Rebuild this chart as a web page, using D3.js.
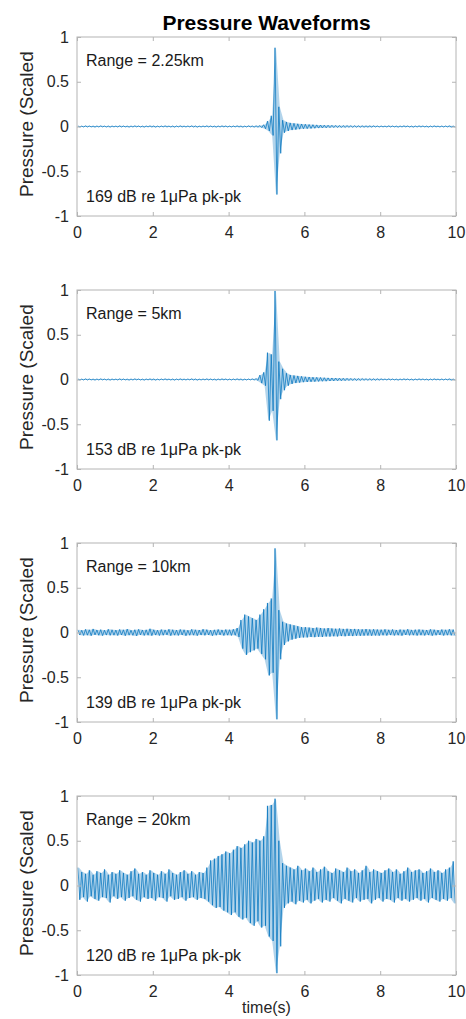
<!DOCTYPE html>
<html lang="en">
<head>
  <meta charset="UTF-8">
  <title>Pressure Waveforms</title>
  <style>
    body { margin: 0; background: #fff; }
    svg { display: block; font-family: "Liberation Sans", Arial, Helvetica, sans-serif; }
    .tick text { fill: #262626; font-size: 16px; }
    .tick line { stroke: #b4b4b4; }
  </style>
  <script src="https://d3js.org/d3.v7.min.js"></script>
</head>
<body>
<script>
  // sampling step of the stored envelope (s); each step holds a high and a low peak
  const dt = 0.1;

  const xTicks = [0, 2, 4, 6, 8, 10];
  const yTicks = [-1, -0.5, 0, 0.5, 1];
  const rangeLabels = ["Range = 2.25km", "Range = 5km", "Range = 10km", "Range = 20km"];
  const levelLabels = ["169 dB re 1\u03bcPa pk-pk", "153 dB re 1\u03bcPa pk-pk",
                       "139 dB re 1\u03bcPa pk-pk", "120 dB re 1\u03bcPa pk-pk"];

  // Range = 2.25km
  const hi1 = [
    .006,.005,.007,.006,.005,.006,.007,.005,.006,.006,
    .005,.007,.006,.005,.006,.007,.006,.005,.006,.007,
    .006,.005,.006,.007,.005,.006,.006,.007,.005,.006,
    .007,.006,.005,.006,.007,.006,.005,.006,.007,.006,
    .005,.006,.007,.006,.005,.007,.006,.008,.01,.02,
    .06,.12,.88,.22,.07,.05,.04,.035,.03,.028,
    .025,.022,.02,.018,.016,.015,.014,.013,.012,.011,
    .01,.01,.009,.009,.008,.008,.007,.007,.007,.006,
    .006,.005,.007,.006,.005,.006,.007,.006,.005,.006,
    .007,.006,.005,.006,.007,.005,.006,.006,.007,.005];
  const lo1 = [
    -.005,-.006,-.006,-.005,-.007,-.006,-.005,-.006,-.007,-.005,
    -.006,-.006,-.005,-.007,-.006,-.005,-.006,-.007,-.005,-.006,
    -.007,-.006,-.005,-.006,-.006,-.007,-.005,-.006,-.006,-.005,
    -.006,-.007,-.006,-.005,-.006,-.005,-.007,-.006,-.005,-.006,
    -.006,-.005,-.006,-.007,-.006,-.005,-.007,-.008,-.012,-.025,
    -.05,-.1,-.76,-.3,-.07,-.05,-.04,-.035,-.03,-.026,
    -.024,-.022,-.02,-.018,-.016,-.015,-.013,-.012,-.011,-.011,
    -.01,-.009,-.009,-.008,-.008,-.008,-.007,-.007,-.006,-.006,
    -.005,-.006,-.006,-.005,-.007,-.006,-.005,-.006,-.007,-.006,
    -.006,-.005,-.007,-.006,-.005,-.006,-.006,-.005,-.007,-.006];

  // Range = 5km
  const hi2 = [
    .006,.005,.007,.006,.005,.006,.007,.005,.006,.006,
    .005,.007,.006,.005,.006,.007,.006,.005,.006,.007,
    .006,.005,.006,.007,.005,.006,.006,.007,.005,.006,
    .007,.006,.005,.006,.007,.006,.005,.006,.007,.006,
    .005,.006,.007,.006,.005,.006,.007,.01,.05,.08,
    .3,.28,.99,.2,.12,.07,.05,.045,.04,.035,
    .03,.028,.026,.024,.022,.02,.018,.017,.016,.015,
    .014,.013,.012,.011,.01,.01,.009,.009,.008,.008,
    .007,.006,.007,.006,.005,.006,.007,.006,.005,.006,
    .007,.006,.005,.006,.007,.005,.006,.006,.007,.005];
  const lo2 = [
    -.005,-.006,-.006,-.005,-.007,-.006,-.005,-.006,-.007,-.005,
    -.006,-.006,-.005,-.007,-.006,-.005,-.006,-.007,-.005,-.006,
    -.007,-.006,-.005,-.006,-.006,-.007,-.005,-.006,-.006,-.005,
    -.006,-.007,-.006,-.005,-.006,-.005,-.007,-.006,-.005,-.006,
    -.006,-.005,-.006,-.007,-.006,-.005,-.006,-.01,-.04,-.07,
    -.46,-.35,-.68,-.22,-.12,-.07,-.05,-.04,-.035,-.03,
    -.028,-.026,-.024,-.022,-.02,-.019,-.017,-.016,-.015,-.014,
    -.013,-.012,-.011,-.011,-.01,-.009,-.009,-.008,-.008,-.007,
    -.006,-.006,-.006,-.005,-.007,-.006,-.005,-.006,-.007,-.006,
    -.006,-.005,-.007,-.006,-.005,-.006,-.006,-.005,-.007,-.006];

  // Range = 10km
  const hi3 = [
    .03,.025,.035,.03,.04,.028,.032,.026,.036,.03,
    .027,.034,.03,.038,.025,.031,.035,.028,.03,.042,
    .03,.026,.033,.029,.036,.031,.027,.034,.03,.025,
    .035,.03,.028,.037,.032,.026,.03,.034,.029,.033,
    .031,.036,.05,.14,.2,.18,.16,.14,.2,.26,
    .33,.38,.94,.25,.12,.1,.09,.08,.07,.06,
    .06,.055,.05,.055,.05,.045,.05,.045,.042,.045,
    .04,.042,.038,.04,.036,.035,.038,.034,.036,.033,
    .032,.035,.03,.034,.028,.033,.03,.036,.029,.032,
    .034,.03,.028,.035,.031,.027,.033,.03,.036,.032];
  const lo3 = [
    -.028,-.033,-.03,-.036,-.027,-.031,-.035,-.029,-.032,-.03,
    -.034,-.028,-.036,-.03,-.032,-.038,-.027,-.033,-.03,-.035,
    -.029,-.034,-.031,-.027,-.035,-.03,-.033,-.028,-.036,-.031,
    -.03,-.035,-.029,-.032,-.028,-.036,-.031,-.027,-.034,-.03,
    -.033,-.03,-.05,-.18,-.25,-.22,-.2,-.18,-.24,-.3,
    -.48,-.45,-.97,-.3,-.14,-.1,-.08,-.07,-.06,-.055,
    -.055,-.05,-.052,-.048,-.05,-.045,-.046,-.042,-.044,-.04,
    -.042,-.038,-.04,-.036,-.037,-.035,-.034,-.036,-.033,-.035,
    -.031,-.034,-.029,-.033,-.03,-.035,-.028,-.032,-.03,-.034,
    -.03,-.033,-.029,-.035,-.031,-.028,-.034,-.03,-.032,-.036];

  // Range = 20km
  const hi4 = [
    .2,.15,.13,.17,.12,.16,.14,.18,.12,.15,
    .13,.17,.14,.12,.16,.19,.13,.15,.12,.17,
    .14,.12,.16,.13,.18,.14,.12,.15,.17,.13,
    .16,.12,.15,.14,.2,.28,.3,.33,.35,.38,
    .36,.4,.44,.42,.46,.5,.48,.52,.5,.55,
    .89,.9,.97,.5,.25,.22,.2,.18,.22,.17,
    .19,.16,.2,.15,.18,.21,.16,.14,.19,.17,
    .15,.2,.16,.18,.14,.17,.22,.15,.18,.16,
    .14,.17,.19,.15,.18,.13,.16,.2,.15,.17,
    .18,.14,.16,.19,.15,.17,.14,.18,.2,.27];
  const lo4 = [
    -.16,-.13,-.18,-.12,-.15,-.17,-.13,-.14,-.19,-.12,
    -.15,-.13,-.17,-.14,-.12,-.16,-.18,-.13,-.15,-.14,
    -.17,-.13,-.14,-.18,-.12,-.16,-.15,-.13,-.17,-.14,
    -.13,-.16,-.14,-.15,-.18,-.22,-.25,-.24,-.28,-.3,
    -.33,-.3,-.35,-.38,-.36,-.42,-.45,-.4,-.47,-.45,
    -.57,-.62,-.98,-.68,-.25,-.2,-.18,-.21,-.17,-.19,
    -.16,-.2,-.17,-.15,-.19,-.16,-.18,-.14,-.17,-.2,
    -.15,-.17,-.19,-.14,-.18,-.16,-.15,-.2,-.16,-.14,
    -.18,-.15,-.16,-.19,-.14,-.17,-.15,-.18,-.16,-.14,
    -.17,-.15,-.19,-.14,-.16,-.18,-.15,-.17,-.14,-.2];

  const highs = [hi1, hi2, hi3, hi4];
  const lows = [lo1, lo2, lo3, lo4];

  const width = 466, height = 1019;
  const left = 77, right = 456, firstTop = 37, step = 253, ph = 179;

  const svg = d3.select("body").append("svg")
    .attr("width", width).attr("height", height);

  const x = d3.scaleLinear().domain([0, 10]).range([left, right]);

  svg.append("text")
    .attr("x", (left + right) / 2).attr("y", 30)
    .attr("text-anchor", "middle")
    .attr("font-size", 21).attr("font-weight", "bold").attr("fill", "#000")
    .text("Pressure Waveforms");

  highs.forEach((hi, k) => {
    const top = firstTop + k * step;
    const y = d3.scaleLinear().domain([-1, 1]).range([top + ph, top]);
    const g = svg.append("g");

    // zigzag between the high and low peak of every step
    const pts = [];
    hi.forEach((v, i) => {
      pts.push([i * dt + dt / 4, v]);
      pts.push([i * dt + 3 * dt / 4, lows[k][i]]);
    });
    const env = hi.map((v, i) => [i * dt + dt / 2, v, lows[k][i]]);

    g.append("clipPath").attr("id", "clip" + k)
      .append("rect").attr("x", left).attr("y", top)
      .attr("width", right - left).attr("height", ph);

    // faint envelope under the trace so dense parts read as a band
    g.append("path")
      .datum(env)
      .attr("clip-path", `url(#clip${k})`)
      .attr("fill", "#0072BD")
      .attr("fill-opacity", 0.3)
      .attr("d", d3.area().x(d => x(d[0])).y0(d => y(d[2])).y1(d => y(d[1])));

    g.append("path")
      .datum(pts)
      .attr("clip-path", `url(#clip${k})`)
      .attr("fill", "none")
      .attr("stroke", "#0072BD")
      .attr("stroke-width", 0.8)
      .attr("stroke-opacity", 0.9)
      .attr("d", d3.line().x(d => x(d[0])).y(d => y(d[1])));

    // axes, ticks pointing inward as in MATLAB
    g.append("g").attr("transform", `translate(0,${top + ph})`)
      .call(d3.axisBottom(x).tickValues(xTicks).tickSizeInner(-4).tickSizeOuter(0)
        .tickPadding(11).tickFormat(d => String(d)));
    g.append("g").attr("transform", `translate(0,${top})`)
      .call(d3.axisTop(x).tickValues(xTicks).tickSizeInner(-4).tickSizeOuter(0).tickFormat(""));
    g.append("g").attr("transform", `translate(${left},0)`)
      .call(d3.axisLeft(y).tickValues(yTicks).tickSizeInner(-4).tickSizeOuter(0)
        .tickPadding(8).tickFormat(d => String(d)));
    g.append("g").attr("transform", `translate(${right},0)`)
      .call(d3.axisRight(y).tickValues(yTicks).tickSizeInner(-4).tickSizeOuter(0).tickFormat(""));
    g.selectAll(".domain").remove();
    g.selectAll("text").attr("font-family", null).attr("font-size", null);

    g.append("rect")
      .attr("x", left).attr("y", top)
      .attr("width", right - left).attr("height", ph)
      .attr("fill", "none").attr("stroke", "#b4b4b4").attr("stroke-width", 1);

    g.append("text")
      .attr("x", 86).attr("y", top + 29)
      .attr("font-size", 16).attr("fill", "#1a1a1a")
      .text(rangeLabels[k]);
    g.append("text")
      .attr("x", 86).attr("y", top + ph - 14)
      .attr("font-size", 16).attr("fill", "#1a1a1a")
      .text(levelLabels[k]);

    g.append("text")
      .attr("transform", `translate(33,${top + 160}) rotate(-90)`)
      .attr("font-size", 19).attr("fill", "#262626")
      .text("Pressure (Scaled");
  });

  svg.append("text")
    .attr("x", (left + right) / 2).attr("y", 1013)
    .attr("text-anchor", "middle")
    .attr("font-size", 16).attr("fill", "#262626")
    .text("time(s)");
</script>
</body>
</html>
